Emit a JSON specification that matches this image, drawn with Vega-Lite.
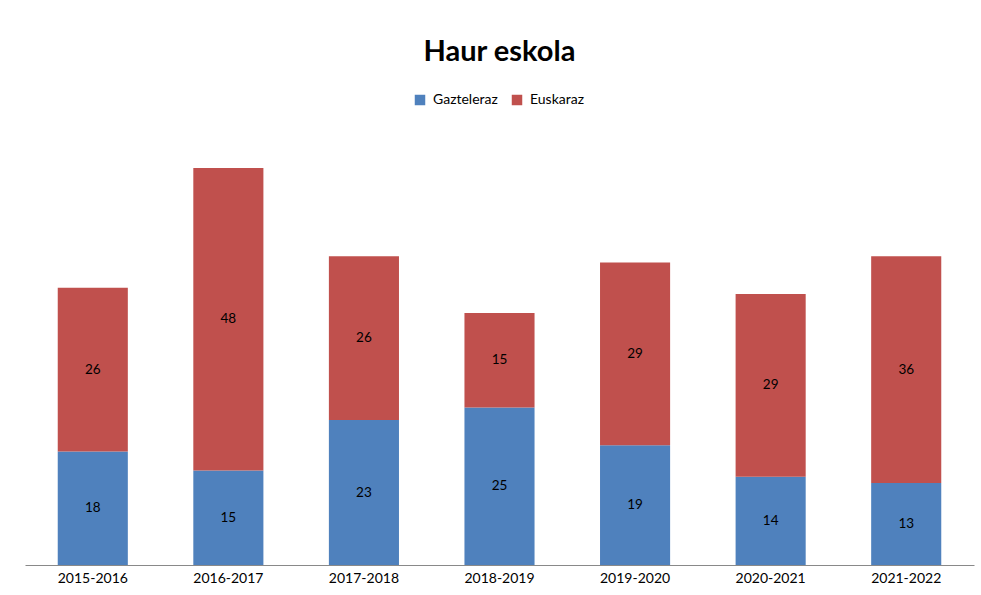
{
  "$schema": "https://vega.github.io/schema/vega-lite/v6.json",
  "autosize": "none",
  "width": 949,
  "height": 441,
  "padding": {"left": 25, "top": 124, "right": 7, "bottom": 30},
  "background": "white",
  "config": {
    "font": "Lato",
    "view": {"stroke": null}
  },
  "title": {
    "text": "Haur eskola",
    "fontSize": 29,
    "fontWeight": "bold",
    "font": "Lato",
    "color": "black",
    "anchor": "middle",
    "offset": 26
  },
  "data": {
    "values": [
      {"year": "2015-2016", "series": "Gazteleraz", "value": 18},
      {"year": "2015-2016", "series": "Euskaraz", "value": 26},
      {"year": "2016-2017", "series": "Gazteleraz", "value": 15},
      {"year": "2016-2017", "series": "Euskaraz", "value": 48},
      {"year": "2017-2018", "series": "Gazteleraz", "value": 23},
      {"year": "2017-2018", "series": "Euskaraz", "value": 26},
      {"year": "2018-2019", "series": "Gazteleraz", "value": 25},
      {"year": "2018-2019", "series": "Euskaraz", "value": 15},
      {"year": "2019-2020", "series": "Gazteleraz", "value": 19},
      {"year": "2019-2020", "series": "Euskaraz", "value": 29},
      {"year": "2020-2021", "series": "Gazteleraz", "value": 14},
      {"year": "2020-2021", "series": "Euskaraz", "value": 29},
      {"year": "2021-2022", "series": "Gazteleraz", "value": 13},
      {"year": "2021-2022", "series": "Euskaraz", "value": 36}
    ]
  },
  "transform": [
    {"stack": "value", "groupby": ["year"], "sort": [{"field": "series", "order": "descending"}], "as": ["y0", "y1"]}
  ],
  "encoding": {
    "x": {
      "field": "year",
      "type": "nominal",
      "scale": {"paddingInner": 0, "paddingOuter": 0},
      "axis": {
        "title": null,
        "labelAngle": 0,
        "labelFontSize": 14,
        "labelColor": "black",
        "labelFont": "Lato",
        "labelPadding": 6,
        "ticks": false,
        "domainColor": "#898989",
        "domainWidth": 1
      }
    }
  },
  "layer": [
    {
      "mark": {"type": "bar", "width": {"band": 0.517}},
      "encoding": {
        "y": {"field": "y0", "type": "quantitative", "scale": {"domain": [0, 70]}, "axis": null},
        "y2": {"field": "y1"},
        "color": {
          "field": "series",
          "type": "nominal",
          "scale": {"domain": ["Gazteleraz", "Euskaraz"], "range": ["#4F81BD", "#C0504D"]},
          "legend": {
            "orient": "none",
            "legendX": 388,
            "legendY": -31,
            "direction": "horizontal",
            "title": null,
            "symbolType": "square",
            "symbolSize": 110,
            "symbolStrokeWidth": 0,
            "labelFontSize": 14,
            "labelFont": "Lato",
            "labelColor": "black",
            "labelOffset": 6,
            "columnPadding": 12
          }
        }
      }
    },
    {
      "transform": [
        {"fold": ["y0", "y1"], "as": ["k", "pos"]},
        {"aggregate": [{"op": "mean", "field": "pos", "as": "mid"}, {"op": "max", "field": "value", "as": "value"}], "groupby": ["year", "series"]}
      ],
      "mark": {"type": "text", "fontSize": 13.5, "font": "Lato", "color": "black", "baseline": "middle"},
      "encoding": {
        "y": {"field": "mid", "type": "quantitative", "scale": {"domain": [0, 70]}},
        "text": {"field": "value", "type": "quantitative"}
      }
    }
  ]
}
